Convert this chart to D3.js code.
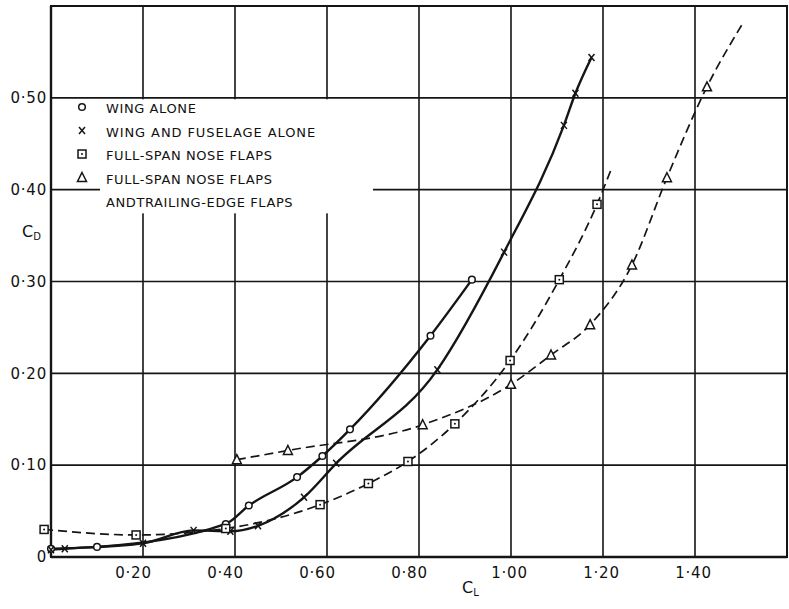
<!DOCTYPE html>
<html>
<head>
<meta charset="utf-8">
<script src="https://cdn.jsdelivr.net/npm/d3@7"></script>
<style>
  body { margin: 0; background: #fff; }
  svg { display: block; }
  text { font-family: "DejaVu Sans", sans-serif; fill: #111; }
</style>
</head>
<body>
<div id="viz"></div>
<script>
// values (CL, CD)
const wingAlone = [[0.0, 0.009], [0.10, 0.011], [0.38, 0.036], [0.43, 0.056], [0.535, 0.087],
  [0.59, 0.110], [0.65, 0.139], [0.825, 0.241], [0.915, 0.302]];
const wingFuselage = [[0.0, 0.008], [0.03, 0.009], [0.20, 0.015], [0.31, 0.029], [0.39, 0.028],
  [0.45, 0.034], [0.55, 0.065], [0.62, 0.102], [0.84, 0.204], [0.985, 0.332],
  [1.115, 0.470], [1.14, 0.505], [1.175, 0.544]];
const noseFlaps = [[-0.015, 0.030], [0.185, 0.024], [0.38, 0.031], [0.585, 0.057], [0.69, 0.080],
  [0.776, 0.104], [0.878, 0.145], [0.998, 0.214], [1.105, 0.302], [1.187, 0.384]];
const noseFlapsEnd = [1.22, 0.425];
const noseTrailing = [[0.404, 0.106], [0.515, 0.116], [0.808, 0.144], [1.0, 0.188], [1.087, 0.220],
  [1.172, 0.253], [1.263, 0.318], [1.339, 0.413], [1.426, 0.512]];
const noseTrailingEnd = [1.505, 0.582];

const xTicks = [0.20, 0.40, 0.60, 0.80, 1.00, 1.20, 1.40];
const yTicks = [0, 0.10, 0.20, 0.30, 0.40, 0.50];
const legendLabels = ['WING ALONE', 'WING AND FUSELAGE ALONE', 'FULL-SPAN NOSE FLAPS',
  'FULL-SPAN NOSE FLAPS', 'ANDTRAILING-EDGE FLAPS'];
const legendMarks = ['circle', 'cross', 'square', 'triangle', null];

const w = 789;
const h = 609;
const svg = d3.select('#viz').append('svg')
  .attr('width', w)
  .attr('height', h);

const x = d3.scaleLinear().domain([0, 1.6]).range([51, 787]);
const y = d3.scaleLinear().domain([0, 0.6]).range([557, 6]);

const ink = '#151515';

// grid
const grid = svg.append('g');
grid.selectAll('.vg').data(xTicks).enter().append('line')
  .attr('x1', d => x(d)).attr('x2', d => x(d))
  .attr('y1', y(0.6)).attr('y2', y(0))
  .attr('stroke', ink).attr('stroke-width', 1.6);
grid.selectAll('.hg').data(yTicks.slice(1)).enter().append('line')
  .attr('x1', x(0)).attr('x2', x(1.6))
  .attr('y1', d => y(d)).attr('y2', d => y(d))
  .attr('stroke', ink).attr('stroke-width', 1.6);
grid.append('rect')
  .attr('x', x(0)).attr('y', y(0.6))
  .attr('width', x(1.6) - x(0)).attr('height', y(0) - y(0.6))
  .attr('fill', 'none').attr('stroke', ink).attr('stroke-width', 2);
// heavier baseline and left edge
grid.append('line').attr('x1', x(0)).attr('x2', x(1.6)).attr('y1', y(0)).attr('y2', y(0))
  .attr('stroke', ink).attr('stroke-width', 2.6);
grid.append('line').attr('x1', x(0)).attr('x2', x(0)).attr('y1', y(0.6)).attr('y2', y(0))
  .attr('stroke', ink).attr('stroke-width', 2.4);

// tick labels
const fmt = d => d === 0 ? '0' : d3.format('.2f')(d).replace('.', '·');
const xAxis = d3.axisBottom(x).tickValues(xTicks).tickSize(0).tickPadding(0).tickFormat(fmt);
const gx = svg.append('g').attr('transform', 'translate(0,' + y(0) + ')').call(xAxis);
gx.select('.domain').remove();
gx.selectAll('text')
  .attr('y', 21).attr('dy', 0)
  .attr('dx', d => d < 1 ? -10 : -2)
  .style('font-size', '15px')
  .style('letter-spacing', '0.8px')
  .style('font-family', '"DejaVu Sans", sans-serif');

const yAxis = d3.axisLeft(y).tickValues(yTicks).tickSize(0).tickPadding(4).tickFormat(fmt);
const gy = svg.append('g').attr('transform', 'translate(' + x(0) + ',0)').call(yAxis);
gy.select('.domain').remove();
gy.selectAll('text')
  .style('font-size', '15px')
  .style('letter-spacing', '0.8px')
  .style('font-family', '"DejaVu Sans", sans-serif');

// axis titles
const cd = svg.append('text').attr('x', 22).attr('y', 237).style('font-size', '16px');
cd.append('tspan').text('C');
cd.append('tspan').attr('dy', 3).style('font-size', '10px').text('D');
const cl = svg.append('text').attr('x', 462).attr('y', 593).style('font-size', '16px');
cl.append('tspan').text('C');
cl.append('tspan').attr('dy', 3).style('font-size', '10px').text('L');

// legend background hides the grid
svg.append('rect')
  .attr('x', 100).attr('y', y(0.5) + 1.5)
  .attr('width', 273).attr('height', 114)
  .attr('fill', '#fff');

// curves
const line = d3.line()
  .x(d => x(d[0]))
  .y(d => y(d[1]))
  .curve(d3.curveMonotoneX);

const curves = svg.append('g').attr('fill', 'none').attr('stroke', ink);
curves.append('path').datum(wingAlone).attr('d', line).attr('stroke-width', 2.4);
curves.append('path').datum(wingFuselage).attr('d', line).attr('stroke-width', 2.4);
curves.append('path').datum(noseFlaps.concat([noseFlapsEnd])).attr('d', line)
  .attr('stroke-width', 1.7).attr('stroke-dasharray', '9,5');
curves.append('path').datum(noseTrailing.concat([noseTrailingEnd])).attr('d', line)
  .attr('stroke-width', 1.7).attr('stroke-dasharray', '9,5');

// markers
function marker(sel, type) {
  if (type === 'circle') {
    sel.append('circle').attr('r', 3.3).attr('fill', '#fff').attr('stroke', ink).attr('stroke-width', 1.5);
  } else if (type === 'cross') {
    sel.append('path').attr('d', 'M-3,-3.5L3,3.5M3,-3.5L-3,3.5')
      .attr('stroke', ink).attr('stroke-width', 1.5).attr('fill', 'none');
  } else if (type === 'square') {
    sel.append('rect').attr('x', -4).attr('y', -4).attr('width', 8).attr('height', 8)
      .attr('fill', '#fff').attr('stroke', ink).attr('stroke-width', 1.5);
    sel.append('circle').attr('r', 1).attr('fill', ink);
  } else if (type === 'triangle') {
    sel.append('path').attr('d', 'M0,-5L4.5,4L-4.5,4Z')
      .attr('fill', '#fff').attr('stroke', ink).attr('stroke-width', 1.5);
  }
}

const series = [
  { data: wingAlone, mark: 'circle' },
  { data: wingFuselage, mark: 'cross' },
  { data: noseFlaps, mark: 'square' },
  { data: noseTrailing, mark: 'triangle' }
];
series.forEach(s => {
  svg.append('g').selectAll('g').data(s.data).enter().append('g')
    .attr('transform', d => 'translate(' + x(d[0]) + ',' + y(d[1]) + ')')
    .each(function () { marker(d3.select(this), s.mark); });
});

// legend
const legend = svg.append('g');
legendLabels.forEach((label, i) => {
  const ly = 108 + i * 23.5;
  if (legendMarks[i]) {
    const g = legend.append('g').attr('transform', 'translate(82,' + (ly - 1) + ')');
    marker(g, legendMarks[i]);
  }
  legend.append('text')
    .attr('x', 106).attr('y', ly + 5)
    .style('font-size', '13px')
    .style('letter-spacing', i === 1 ? '0.9px' : '0.6px')
    .text(label);
});
</script>
</body>
</html>
